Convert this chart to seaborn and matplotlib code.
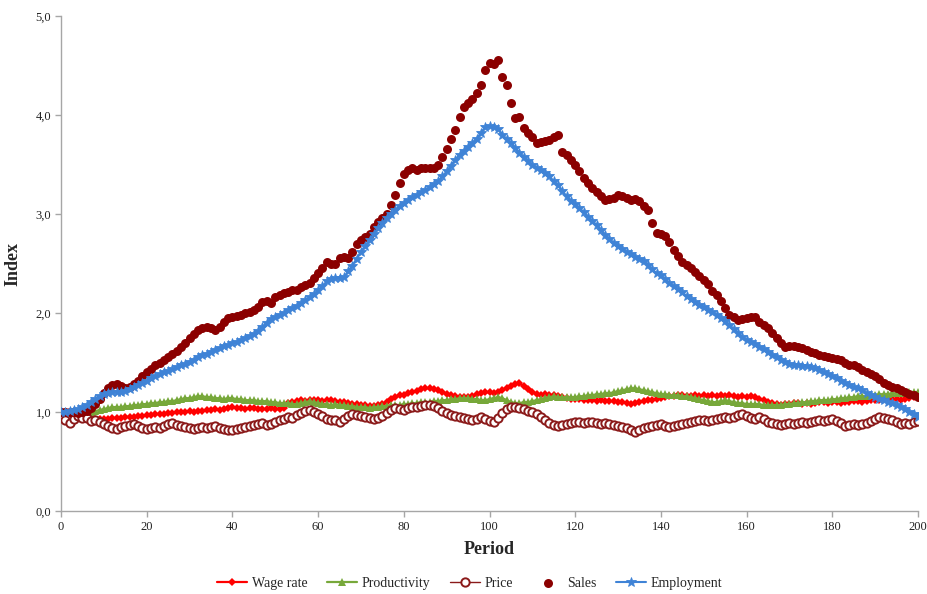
import numpy as np
import pandas as pd
import matplotlib
matplotlib.use("Agg")
import matplotlib.pyplot as plt
import seaborn as sns
from matplotlib.ticker import FuncFormatter

periods = list(range(0, 201))

wage_rate = [
    1.00, 0.99, 0.98, 0.97, 0.97, 0.96, 0.95, 0.94, 0.93, 0.93,
    0.93, 0.93, 0.94, 0.94, 0.94, 0.95, 0.95, 0.95, 0.96, 0.96,
    0.97, 0.97, 0.98, 0.98, 0.98, 0.99, 0.99, 1.00, 1.00, 1.00,
    1.01, 1.00, 1.01, 1.01, 1.02, 1.02, 1.03, 1.02, 1.03, 1.04,
    1.05, 1.04, 1.04, 1.03, 1.04, 1.04, 1.03, 1.03, 1.03, 1.04,
    1.03, 1.03, 1.04, 1.09, 1.10, 1.11, 1.12, 1.11, 1.12, 1.12,
    1.12, 1.11, 1.12, 1.12, 1.11, 1.10, 1.10, 1.09, 1.08, 1.08,
    1.07, 1.07, 1.06, 1.06, 1.07, 1.08, 1.10, 1.13, 1.15, 1.17,
    1.17, 1.19, 1.20, 1.21, 1.23, 1.24, 1.24, 1.23, 1.22, 1.20,
    1.18, 1.17, 1.16, 1.15, 1.15, 1.15, 1.16, 1.18, 1.19, 1.20,
    1.20, 1.19, 1.20, 1.22, 1.24, 1.26, 1.28, 1.29, 1.26, 1.23,
    1.20, 1.18, 1.17, 1.18, 1.17, 1.17, 1.16, 1.15, 1.14, 1.13,
    1.13, 1.13, 1.12, 1.12, 1.12, 1.11, 1.12, 1.11, 1.11, 1.11,
    1.10, 1.10, 1.09, 1.08, 1.09, 1.10, 1.11, 1.12, 1.12, 1.13,
    1.14, 1.15, 1.16, 1.16, 1.17, 1.17, 1.16, 1.16, 1.17, 1.16,
    1.17, 1.16, 1.17, 1.16, 1.17, 1.16, 1.17, 1.16, 1.15, 1.16,
    1.15, 1.16, 1.15, 1.13, 1.12, 1.10, 1.09, 1.08, 1.07, 1.08,
    1.08, 1.09, 1.09, 1.08, 1.09, 1.08, 1.09, 1.10, 1.10, 1.09,
    1.10, 1.10, 1.09, 1.10, 1.10, 1.11, 1.11, 1.10, 1.11, 1.12,
    1.12, 1.12, 1.13, 1.12, 1.13, 1.13, 1.12, 1.13, 1.14, 1.15,
    1.15,
]

productivity = [
    1.00, 1.00, 1.00, 1.00, 0.99, 0.99, 0.99, 1.00, 1.01, 1.02,
    1.03, 1.04, 1.05, 1.05, 1.05, 1.06, 1.06, 1.07, 1.07, 1.08,
    1.08, 1.09, 1.09, 1.10, 1.10, 1.11, 1.11, 1.12, 1.13, 1.14,
    1.14, 1.15, 1.16, 1.16, 1.15, 1.15, 1.14, 1.14, 1.13, 1.14,
    1.14, 1.13, 1.13, 1.12, 1.12, 1.12, 1.11, 1.11, 1.11, 1.10,
    1.10, 1.09, 1.09, 1.09, 1.08, 1.08, 1.09, 1.10, 1.11, 1.10,
    1.09, 1.08, 1.08, 1.07, 1.08, 1.07, 1.07, 1.06, 1.06, 1.05,
    1.05, 1.05, 1.04, 1.05, 1.05, 1.06, 1.06, 1.07, 1.07, 1.07,
    1.08, 1.08, 1.09, 1.09, 1.10, 1.10, 1.10, 1.11, 1.11, 1.12,
    1.12, 1.13, 1.13, 1.14, 1.14, 1.14, 1.13, 1.13, 1.12, 1.12,
    1.13, 1.14, 1.15, 1.14, 1.12, 1.10, 1.09, 1.09, 1.10, 1.10,
    1.11, 1.12, 1.13, 1.14, 1.15, 1.16, 1.15, 1.15, 1.15, 1.15,
    1.15, 1.16, 1.16, 1.17, 1.17, 1.18, 1.18, 1.19, 1.19, 1.20,
    1.21, 1.22, 1.23, 1.24, 1.24, 1.23, 1.22, 1.21, 1.20, 1.19,
    1.18, 1.18, 1.17, 1.17, 1.17, 1.16, 1.16, 1.15, 1.14, 1.13,
    1.12, 1.11, 1.10, 1.10, 1.11, 1.12, 1.11, 1.10, 1.09, 1.09,
    1.08, 1.08, 1.08, 1.08, 1.07, 1.07, 1.07, 1.07, 1.07, 1.08,
    1.08, 1.09, 1.09, 1.10, 1.10, 1.11, 1.11, 1.12, 1.12, 1.12,
    1.13, 1.13, 1.14, 1.14, 1.15, 1.15, 1.16, 1.16, 1.16, 1.17,
    1.17, 1.18, 1.18, 1.18, 1.19, 1.19, 1.19, 1.20, 1.20, 1.20,
    1.20,
]

price = [
    0.96, 0.92, 0.89, 0.93, 0.96, 0.94, 0.94, 0.91, 0.92, 0.90,
    0.88, 0.86, 0.84, 0.83, 0.85, 0.86, 0.87, 0.88, 0.86, 0.84,
    0.83, 0.84, 0.85, 0.84, 0.86, 0.88, 0.89, 0.87, 0.86, 0.85,
    0.84, 0.83, 0.84, 0.85, 0.84, 0.85, 0.86, 0.84, 0.83, 0.82,
    0.82, 0.83, 0.84, 0.85, 0.86, 0.87, 0.88, 0.89, 0.87, 0.88,
    0.90, 0.92, 0.93, 0.95, 0.94, 0.97, 0.99, 1.01, 1.02, 1.00,
    0.98, 0.96, 0.93, 0.92, 0.92, 0.90, 0.93, 0.96, 0.98, 0.97,
    0.96, 0.95, 0.94, 0.93, 0.94, 0.96, 0.99, 1.02, 1.04, 1.03,
    1.02, 1.04, 1.05, 1.05, 1.06, 1.07, 1.07, 1.06, 1.04, 1.01,
    0.99, 0.97, 0.96, 0.95, 0.94, 0.93, 0.92, 0.93, 0.95, 0.93,
    0.91, 0.90, 0.94, 0.99, 1.03, 1.05, 1.05, 1.04, 1.03, 1.01,
    1.00, 0.98, 0.95, 0.92, 0.89, 0.87, 0.86, 0.87, 0.88, 0.89,
    0.90, 0.90, 0.89, 0.90, 0.90, 0.89, 0.88, 0.89, 0.88, 0.87,
    0.86, 0.85, 0.84, 0.82, 0.80, 0.82, 0.84, 0.85, 0.86, 0.87,
    0.88, 0.86, 0.85, 0.86, 0.87, 0.88, 0.89, 0.90, 0.91, 0.92,
    0.92, 0.91, 0.92, 0.93, 0.94, 0.95, 0.94, 0.95, 0.97, 0.98,
    0.96, 0.94, 0.93, 0.95, 0.93, 0.90, 0.89, 0.88, 0.87, 0.88,
    0.89, 0.88, 0.89, 0.90, 0.89, 0.90, 0.91, 0.92, 0.91, 0.92,
    0.93, 0.91, 0.89, 0.86, 0.87, 0.88, 0.87, 0.88, 0.89, 0.91,
    0.93, 0.95, 0.94, 0.93, 0.92, 0.90, 0.88, 0.89, 0.88, 0.90,
    0.91,
]

sales = [
    1.00, 1.00, 1.00, 1.00, 0.99, 1.00, 1.01, 1.04, 1.08, 1.13,
    1.19, 1.24, 1.27, 1.28, 1.26, 1.24, 1.25, 1.28, 1.31, 1.36,
    1.40, 1.43, 1.47, 1.50, 1.53, 1.56, 1.59, 1.62, 1.66, 1.70,
    1.75, 1.79, 1.83, 1.85, 1.86, 1.85, 1.83, 1.86, 1.91, 1.95,
    1.96, 1.97, 1.98, 2.00, 2.01, 2.03, 2.06, 2.11, 2.12, 2.10,
    2.16, 2.18, 2.20, 2.21, 2.23, 2.23, 2.26, 2.28, 2.30, 2.35,
    2.40, 2.45, 2.52, 2.50, 2.50, 2.56, 2.57, 2.56, 2.62, 2.70,
    2.74, 2.77, 2.80, 2.87, 2.92, 2.96, 3.00, 3.09, 3.19, 3.31,
    3.40, 3.44, 3.47, 3.44, 3.47, 3.46, 3.47, 3.46, 3.50, 3.58,
    3.66, 3.76, 3.85, 3.98, 4.08, 4.12, 4.16, 4.22, 4.30, 4.45,
    4.53, 4.52, 4.56, 4.38, 4.30, 4.12, 3.97, 3.98, 3.87, 3.82,
    3.78, 3.72, 3.73, 3.74, 3.75, 3.78, 3.80, 3.63, 3.60, 3.55,
    3.50, 3.43, 3.36, 3.31, 3.26, 3.22, 3.18, 3.14, 3.15, 3.16,
    3.19, 3.18, 3.16, 3.14, 3.15, 3.13, 3.08, 3.04, 2.91, 2.81,
    2.80, 2.78, 2.72, 2.64, 2.58, 2.52, 2.49, 2.45, 2.41, 2.37,
    2.33, 2.29, 2.22, 2.18, 2.12, 2.05, 1.98, 1.96, 1.93, 1.94,
    1.95, 1.96, 1.96, 1.91, 1.88, 1.85, 1.80, 1.75, 1.70, 1.66,
    1.67, 1.67, 1.66, 1.65, 1.63, 1.61, 1.60, 1.58, 1.57, 1.56,
    1.55, 1.54, 1.53, 1.50, 1.48, 1.47, 1.45, 1.42, 1.40, 1.38,
    1.36, 1.33, 1.29, 1.27, 1.25, 1.24, 1.22, 1.20, 1.18, 1.17,
    1.15,
]

employment = [
    1.00, 1.00, 1.01, 1.02, 1.03, 1.05, 1.07, 1.10, 1.13, 1.16,
    1.18, 1.19, 1.20, 1.20, 1.20, 1.21, 1.23, 1.25, 1.27, 1.29,
    1.31, 1.34, 1.36, 1.38, 1.40, 1.41, 1.43, 1.45, 1.47, 1.49,
    1.51, 1.53, 1.56, 1.58, 1.59, 1.61, 1.63, 1.65, 1.67, 1.68,
    1.70, 1.71, 1.73, 1.75, 1.77, 1.79, 1.82, 1.86, 1.90, 1.94,
    1.96, 1.98, 2.00, 2.03, 2.05, 2.07, 2.10, 2.13, 2.16, 2.19,
    2.23, 2.27, 2.32, 2.34, 2.35, 2.35, 2.36, 2.42, 2.48, 2.55,
    2.62, 2.68, 2.74, 2.80, 2.86, 2.91, 2.96, 3.00, 3.04, 3.08,
    3.11, 3.14, 3.17, 3.19, 3.22, 3.24, 3.27, 3.30, 3.33, 3.38,
    3.43, 3.49, 3.55, 3.60, 3.64, 3.68, 3.72, 3.76, 3.82, 3.88,
    3.89, 3.88, 3.86, 3.80, 3.76, 3.72, 3.67, 3.62, 3.58, 3.54,
    3.50, 3.47, 3.44, 3.41, 3.38, 3.33, 3.29, 3.23, 3.18, 3.13,
    3.10, 3.06, 3.02, 2.97, 2.93, 2.89, 2.84, 2.79, 2.75, 2.71,
    2.68, 2.65, 2.62, 2.60, 2.57, 2.55, 2.53, 2.49, 2.44, 2.40,
    2.38, 2.34, 2.30, 2.27, 2.24, 2.21, 2.17, 2.14, 2.11, 2.08,
    2.06, 2.03, 2.01, 1.98, 1.95, 1.92, 1.88, 1.84, 1.80, 1.76,
    1.73, 1.71, 1.69, 1.66, 1.64, 1.61, 1.58, 1.56, 1.53, 1.51,
    1.49, 1.48, 1.47, 1.46, 1.46, 1.45, 1.44, 1.42, 1.40, 1.38,
    1.36, 1.34, 1.31, 1.29, 1.27, 1.25, 1.24, 1.22, 1.19, 1.17,
    1.15, 1.13, 1.12, 1.10, 1.09, 1.07, 1.05, 1.03, 1.00, 0.98,
    0.95,
]

series_names = ["Wage rate", "Productivity", "Price", "Sales", "Employment"]
x_ticks = [0, 20, 40, 60, 80, 100, 120, 140, 160, 180, 200]
y_ticks = [0.0, 1.0, 2.0, 3.0, 4.0, 5.0]

df = pd.DataFrame({
    "Period": periods,
    "Wage rate": wage_rate,
    "Productivity": productivity,
    "Price": price,
    "Sales": sales,
    "Employment": employment,
})

sns.set_theme(style="white")
plt.rcParams["font.family"] = ["Liberation Serif", "DejaVu Serif"]

fig = plt.figure(figsize=(9.27, 5.94), dpi=100)
ax = fig.add_axes([0.0658, 0.1397, 0.9245, 0.8333])

grey = "#A6A6A6"

sns.lineplot(data=df, x="Period", y="Wage rate", ax=ax, color="#FF0000",
             linewidth=1.6, marker="D", markersize=4.2, markeredgewidth=0,
             label="Wage rate", zorder=3)
sns.lineplot(data=df, x="Period", y="Productivity", ax=ax, color="#77A83A",
             linewidth=1.6, marker="^", markersize=5.5, markeredgewidth=0,
             label="Productivity", zorder=3)
sns.lineplot(data=df, x="Period", y="Price", ax=ax, color="#8B1A1A",
             linewidth=1.0, marker="o", markersize=6.0, markeredgewidth=1.4,
             markerfacecolor="white", markeredgecolor="#8B1A1A",
             label="Price", zorder=3)
sns.scatterplot(data=df, x="Period", y="Sales", ax=ax, color="#8B0000",
                s=42, linewidth=0, label="Sales", zorder=4)
sns.lineplot(data=df, x="Period", y="Employment", ax=ax, color="#3F83D6",
             linewidth=1.5, marker="*", markersize=7.5, markeredgewidth=0.6,
             markeredgecolor="#3F83D6", label="Employment", zorder=5)

ax.set_xlim(0, 200)
ax.set_ylim(0, 5)
ax.set_xticks(x_ticks)
ax.set_yticks(y_ticks)
ax.yaxis.set_major_formatter(FuncFormatter(lambda v, p: f"{v:.1f}".replace(".", ",")))

for side in ["top", "right"]:
    ax.spines[side].set_visible(False)
for side in ["left", "bottom"]:
    ax.spines[side].set_color(grey)
    ax.spines[side].set_linewidth(1.0)

ax.tick_params(axis="both", which="major", direction="out", length=4,
               width=1.0, color=grey, labelsize=9, labelcolor="#222222",
               bottom=True, left=True, pad=3)

ax.set_xlabel("Period", fontsize=13, fontweight="bold", labelpad=6)
ax.set_ylabel("Index", fontsize=13, fontweight="bold", labelpad=10)

handles, labels = ax.get_legend_handles_labels()
ax.legend(handles, labels, loc="center", bbox_to_anchor=(0.5065, 0.0185),
          bbox_transform=fig.transFigure, ncol=5, frameon=False,
          fontsize=10, handlelength=2.2, handletextpad=0.3,
          columnspacing=1.4, borderpad=0.1)

fig.savefig("out.png", dpi=100, facecolor="white")
